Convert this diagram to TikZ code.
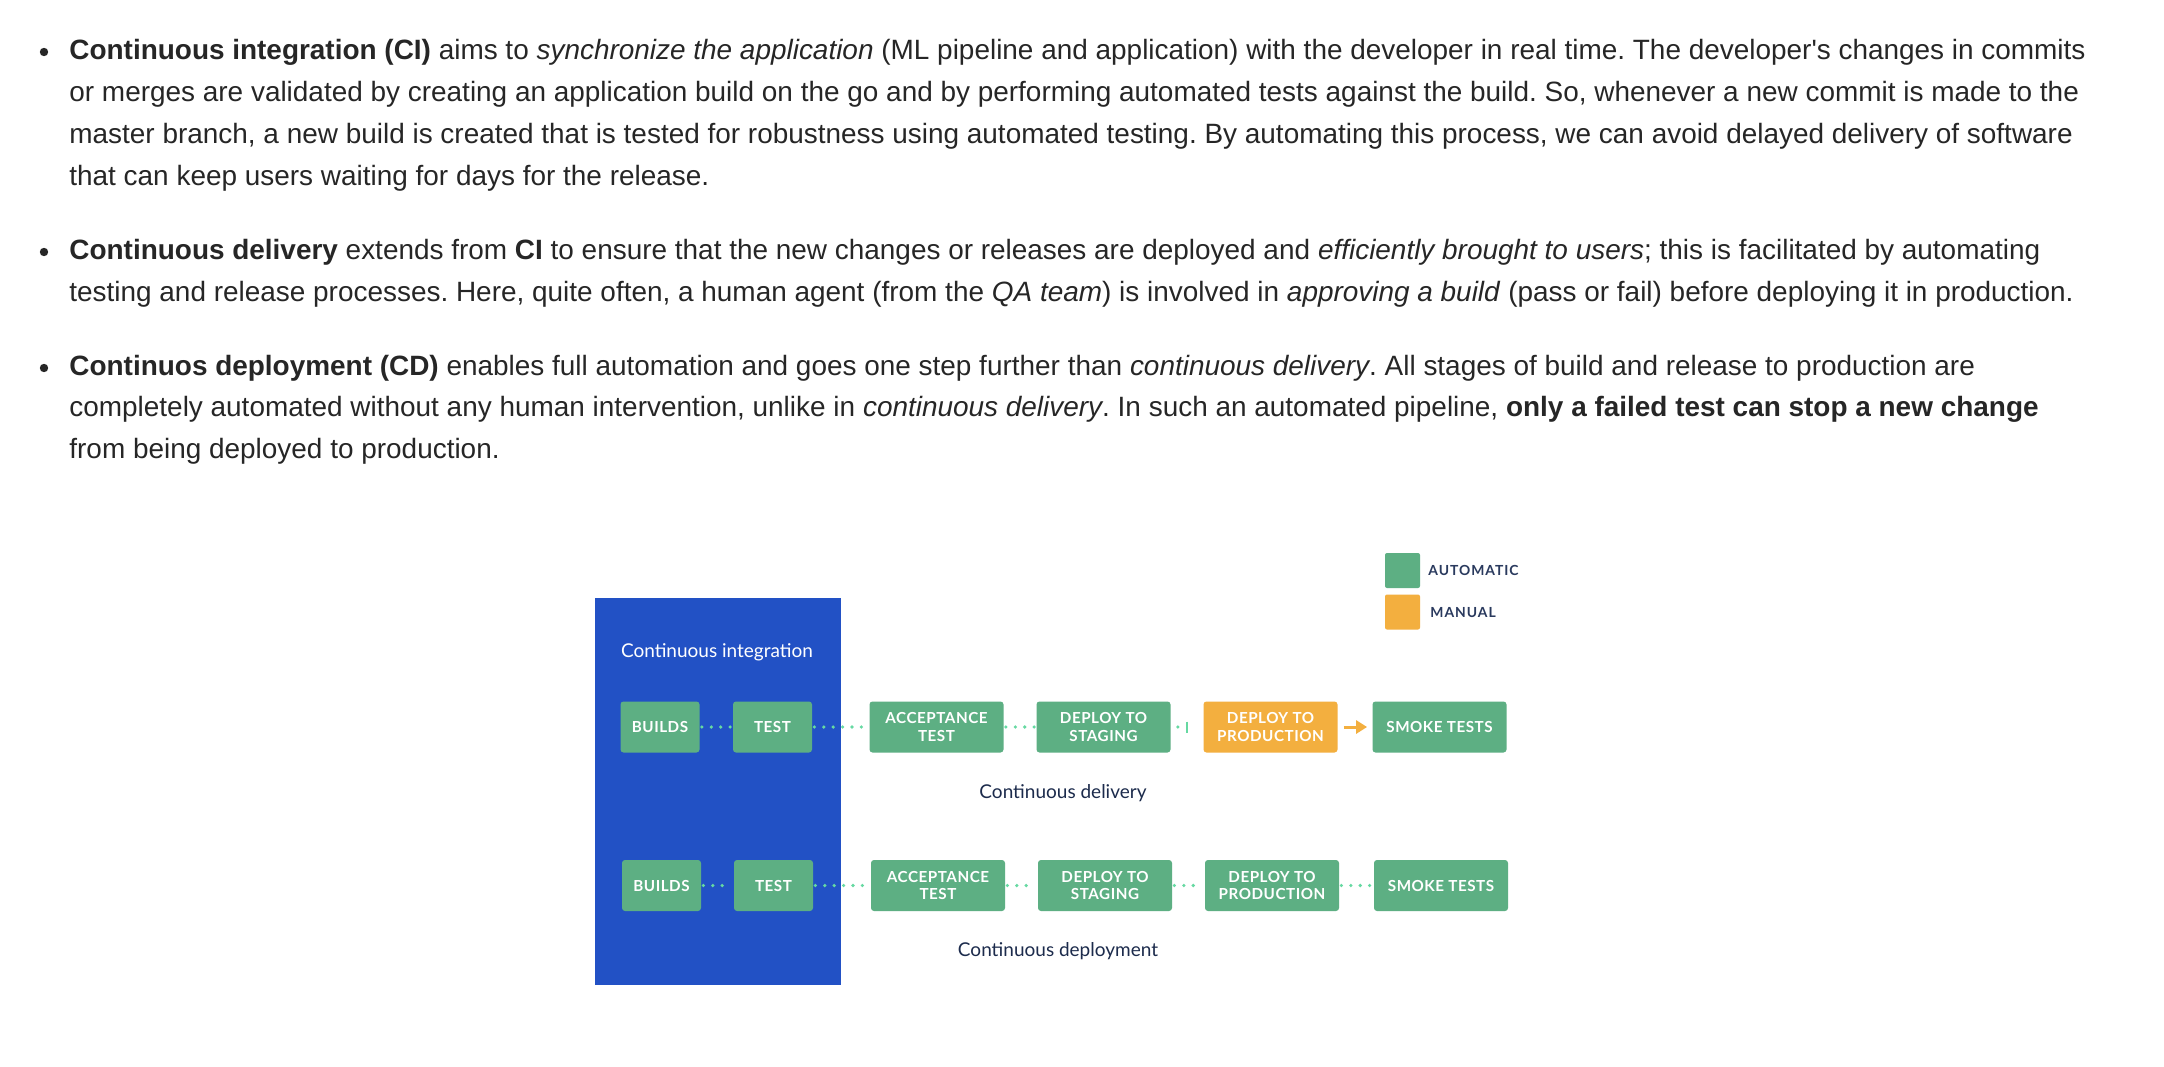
\documentclass[tikz,border=0pt]{standalone}
\usepackage{fontspec}
\setmainfont{Liberation Sans}
\newfontfamily\diagfont{Lato}
\newfontfamily\capsfont[LetterSpace=3.5]{Lato}
\newfontfamily\keyfont[LetterSpace=7]{Lato}
\usepackage{tikz}
\usetikzlibrary{arrows.meta}
\definecolor{textgray}{HTML}{262626}
\definecolor{ciblue}{HTML}{2251C5}
\definecolor{autogreen}{HTML}{5DAF83}
\definecolor{manualorange}{HTML}{F3AF3F}
\definecolor{dotgreen}{HTML}{66D9A2}
\definecolor{navy}{HTML}{1C2B4C}
\definecolor{keynavy}{HTML}{2A3A5E}
\frenchspacing
\tikzset{%
    line/.style={anchor=base west, inner sep=0pt, text=textgray,
        font=\fontsize{13.97}{16}\selectfont},
    stage/.style={fill=autogreen, rounded corners=1.5pt, minimum width=67pt,
        minimum height=25.5pt, inner sep=0pt, text=white, align=center,
        font=\capsfont\bfseries\fontsize{7.6}{8.6}\selectfont},
    shortstage/.style={stage, minimum width=39.5pt},
    manual/.style={stage, fill=manualorange},
    link/.style={dotgreen, line width=1.8pt, line cap=round,
        dash pattern=on 0pt off 4.7pt, shorten <=1pt, shorten >=1pt},
    handoff/.style={manualorange, line width=1.5pt,
        -{Triangle[length=5.5pt,width=6.5pt]}, shorten <=3pt, shorten >=2.5pt},
    phase/.style={anchor=base, inner sep=0pt, text=navy,
        font=\diagfont\fontsize{9.5}{11}\selectfont},
    key/.style={rounded corners=1pt, minimum size=17.5pt, inner sep=0pt},
    keylabel/.style={anchor=base west, inner sep=0pt, text=keynavy,
        font=\keyfont\bfseries\fontsize{6.95}{8}\selectfont}
}

\begin{document}
\begin{tikzpicture}[x=0.5pt,y=-0.5pt]
    \fill[white] (0,0) rectangle (2164,1066);
    \useasboundingbox (0,0) rectangle (2164,1066);

    % bullets
    \foreach \y in {52,252,368}
        \fill[textgray] (44,\y) circle (2.1pt);

    \node[line] (ciA) at (69,59) {\textbf{Continuous integration (CI)} aims to \textit{synchronize the application} (ML pipeline and application) with the developer in real time. The developer\textquotesingle s changes in commits};
    \node[line] (ciB) at (69,101) {or merges are validated by creating an application build on the go and by performing automated tests against the build. So, whenever a new commit is made to the};
    \node[line] (ciC) at (69,143) {master branch, a new build is created that is tested for robustness using automated testing. By automating this process, we can avoid delayed delivery of software};
    \node[line] (ciD) at (69,185) {that can keep users waiting for days for the release.};

    \node[line] (cdA) at (69,259) {\textbf{Continuous delivery} extends from \textbf{CI} to ensure that the new changes or releases are deployed and \textit{efficiently brought to users}; this is facilitated by automating};
    \node[line] (cdB) at (69,301) {testing and release processes. Here, quite often, a human agent (from the \textit{QA team}) is involved in \textit{approving a build} (pass or fail) before deploying it in production.};

    \node[line] (depA) at (69,375) {\textbf{Continuos deployment (CD)} enables full automation and goes one step further than \textit{continuous delivery}. All stages of build and release to production are};
    \node[line] (depB) at (69,416) {completely automated without any human intervention, unlike in \textit{continuous delivery}. In such an automated pipeline, \textbf{only a failed test can stop a new change}};
    \node[line] (depC) at (69,458) {from being deployed to production.};

    % legend
    \node[key, fill=autogreen] (autokey) at (1402.5,570.5) {};
    \node[key, fill=manualorange] (manualkey) at (1402.5,612) {};
    \node[keylabel] (autolabel) at (1428,575) {AUTOMATIC};
    \node[keylabel] (manuallabel) at (1430,617) {MANUAL};

    % continuous integration block
    \node[fill=ciblue, minimum width=123pt, minimum height=193.5pt, inner sep=0pt] (ci) at (718,791.5) {};
    \node[anchor=base, inner sep=0pt, text=white, font=\diagfont\fontsize{9.5}{11}\selectfont] (cilabel) at (717,657) {Continuous integration};

    % delivery row
    \node[shortstage] (build1) at (660,727) {BUILDS};
    \node[shortstage] (test1) at (772.5,727) {TEST};
    \node[stage] (accept1) at (936.5,727) {ACCEPTANCE\\TEST};
    \node[stage] (staging1) at (1103.5,727) {DEPLOY TO\\STAGING};
    \node[manual] (prod1) at (1270.5,727) {DEPLOY TO\\PRODUCTION};
    \node[stage] (smoke1) at (1439.5,727) {SMOKE TESTS};
    \coordinate (gate) at (1187,727);
    \draw[link] (build1) -- (test1);
    \draw[link] (test1) -- (accept1);
    \draw[link] (accept1) -- (staging1);
    \draw[link, shorten <=3.5pt, shorten >=2pt] (staging1) -- (gate);
    \draw[dotgreen, line width=1.2pt] (gate) ++(0,-5.5) -- ++(0,11);
    \draw[handoff] (prod1) -- (smoke1);
    \node[phase] (delivery) at (1063,798) {Continuous delivery};

    % deployment row
    \node[shortstage] (build2) at (661.5,885.5) {BUILDS};
    \node[shortstage] (test2) at (773.5,885.5) {TEST};
    \node[stage] (accept2) at (938,885.5) {ACCEPTANCE\\TEST};
    \node[stage] (staging2) at (1105,885.5) {DEPLOY TO\\STAGING};
    \node[stage] (prod2) at (1272,885.5) {DEPLOY TO\\PRODUCTION};
    \node[stage] (smoke2) at (1441,885.5) {SMOKE TESTS};
    \draw[link] (build2) -- (test2);
    \draw[link] (test2) -- (accept2);
    \draw[link] (accept2) -- (staging2);
    \draw[link] (staging2) -- (prod2);
    \draw[link] (prod2) -- (smoke2);
    \node[phase] (deployment) at (1058,956) {Continuous deployment};
\end{tikzpicture}
\end{document}
